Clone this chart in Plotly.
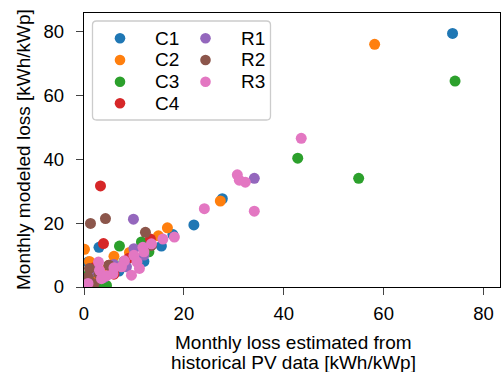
import plotly.graph_objects as go

series_names = ["C1", "C2", "C3", "C4", "R1", "R2", "R3"]
colors = ["#1f77b4", "#ff7f0e", "#2ca02c", "#d62728", "#9467bd", "#8c564b", "#e377c2"]

c1_x = [73.8, 27.7, 22.0, 17.8, 15.5, 9.7, 3.0, 0.8, 2.0, 1.0, 7.0, 12.0]
c1_y = [79.3, 27.6, 19.4, 16.4, 12.8, 9.9, 12.4, 7.8, 3.0, 1.5, 5.0, 8.0]
c2_x = [58.2, 27.3, 16.7, 14.9, 9.1, 6.0, 0.1, 1.1, 4.0, 2.0, 12.0, 0.5]
c2_y = [75.9, 26.9, 18.5, 16.0, 10.8, 9.6, 11.8, 8.0, 5.0, 2.0, 13.0, 3.0]
c3_x = [74.3, 42.8, 55.0, 7.1, 11.5, 12.9, 2.5, 4.5, 13.0, 3.0, 1.0, 8.0]
c3_y = [64.4, 40.3, 34.0, 12.8, 14.1, 11.2, 0.3, 0.5, 11.0, 1.0, 4.0, 8.0]
c4_x = [3.3, 3.9, 13.3, 5.0, 2.0, 1.0, 9.0, 6.0]
c4_y = [31.6, 13.6, 15.0, 6.8, 6.0, 2.0, 9.0, 4.0]
r1_x = [34.1, 9.9, 8.5, 12.0, 4.0, 1.0, 10.0, 6.0, 2.0]
r1_y = [34.0, 21.2, 6.3, 10.0, 3.0, 1.0, 12.0, 7.0, 5.0]
r2_x = [1.3, 4.3, 12.3, 1.1, 0.8, 5.0, 13.5, 2.0, 0.5, 3.0]
r2_y = [19.9, 21.4, 17.1, 5.8, 3.1, 6.8, 13.0, 1.0, 0.5, 4.0]
r3_x = [43.5, 30.7, 31.1, 32.3, 34.1, 24.1, 18.1, 15.8, 11.8, 10.0, 8.1, 10.6,
        11.1, 9.5, 7.5, 5.8, 3.5, 2.9, 3.1, 0.8, 13.5, 12.0, 6.0, 4.5]
r3_y = [46.5, 35.1, 33.4, 32.8, 23.7, 24.5, 15.6, 15.0, 12.4, 9.9, 8.2, 7.8,
        5.8, 3.7, 6.3, 4.2, 2.6, 7.8, 5.2, 1.1, 13.5, 11.0, 6.0, 3.5]

xs = [c1_x, c2_x, c3_x, c4_x, r1_x, r2_x, r3_x]
ys = [c1_y, c2_y, c3_y, c4_y, r1_y, r2_y, r3_y]

x_ticks = [0, 20, 40, 60, 80]
y_ticks = [0, 20, 40, 60, 80]

x_title_lines = ["Monthly loss estimated from", "historical PV data [kWh/kWp]"]
y_title = "Monthly modeled loss [kWh/kWp]"

FONT = "Liberation Sans, Arial, sans-serif"
W, H = 501, 372
ML, MR, MT, MB = 84, 1, 13, 85
PW, PH = W - ML - MR, H - MT - MB


def px2paper_x(px):
    return (px - ML) / PW


def px2paper_y(py):
    return (H - MB - py) / PH


fig = go.Figure()
for i, name in enumerate(series_names):
    fig.add_trace(go.Scatter(
        x=xs[i], y=ys[i], mode="markers", name=name,
        marker=dict(color=colors[i], size=11, line=dict(width=0)),
        showlegend=False, cliponaxis=True,
    ))

# legend (two columns, column-major like the reference)
shapes = []
annotations = []
bx0, bx1 = px2paper_x(92.5), px2paper_x(270.5)
by0, by1 = px2paper_y(120), px2paper_y(21)
rx, ry = 4 / PW, 4 / PH
path = (f"M {bx0+rx},{by1} L {bx1-rx},{by1} Q {bx1},{by1} {bx1},{by1-ry} "
        f"L {bx1},{by0+ry} Q {bx1},{by0} {bx1-rx},{by0} "
        f"L {bx0+rx},{by0} Q {bx0},{by0} {bx0},{by0+ry} "
        f"L {bx0},{by1-ry} Q {bx0},{by1} {bx0+rx},{by1} Z")
shapes.append(dict(type="path", path=path, xref="paper", yref="paper",
                   line=dict(color="#cccccc", width=1.3),
                   fillcolor="rgba(255,255,255,0.8)", layer="above"))

col_marker_px = [120, 205.5]
col_text_px = [153, 239]
row_px = [38.3, 60.0, 81.7, 103.3]
for i, name in enumerate(series_names):
    col = 0 if i < 4 else 1
    row = i if i < 4 else i - 4
    cx = px2paper_x(col_marker_px[col])
    cy = px2paper_y(row_px[row])
    shapes.append(dict(type="circle", xref="paper", yref="paper",
                       xsizemode="pixel", ysizemode="pixel",
                       xanchor=cx, yanchor=cy, x0=-5.3, x1=5.3, y0=-5.3, y1=5.3,
                       fillcolor=colors[i], line=dict(width=0), layer="above"))
    annotations.append(dict(text=name, xref="paper", yref="paper",
                            x=px2paper_x(col_text_px[col]), y=cy,
                            xanchor="left", yanchor="middle", showarrow=False,
                            font=dict(size=19, family=FONT, color="black")))

# axis titles
annotations.append(dict(text=x_title_lines[0], xref="paper", yref="paper",
                        x=px2paper_x(293), y=px2paper_y(342), xanchor="center",
                        yanchor="middle", showarrow=False,
                        font=dict(size=19, family=FONT, color="black")))
annotations.append(dict(text=x_title_lines[1], xref="paper", yref="paper",
                        x=px2paper_x(293), y=px2paper_y(362.5), xanchor="center",
                        yanchor="middle", showarrow=False,
                        font=dict(size=19, family=FONT, color="black")))
annotations.append(dict(text=y_title, xref="paper", yref="paper",
                        x=px2paper_x(23), y=px2paper_y(150), xanchor="center",
                        yanchor="middle", textangle=-90, showarrow=False,
                        font=dict(size=19, family=FONT, color="black")))

fig.update_layout(
    width=W, height=H,
    margin=dict(l=ML, r=MR, t=MT, b=MB),
    paper_bgcolor="white", plot_bgcolor="white",
    font=dict(family=FONT, size=18.5, color="black"),
    showlegend=False,
    shapes=shapes,
    annotations=annotations,
)

fig.update_xaxes(
    range=[0, 83.3], tickvals=x_ticks, ticks="outside", ticklen=7, tickwidth=1.3,
    showline=True, linecolor="black", linewidth=1.3, mirror=True,
    showgrid=False, zeroline=False, tickfont=dict(size=18.5),
    ticklabelstandoff=3,
)
fig.update_yaxes(
    range=[0, 85.7], tickvals=y_ticks, ticks="outside", ticklen=7, tickwidth=1.3,
    showline=True, linecolor="black", linewidth=1.3, mirror=True,
    showgrid=False, zeroline=False, tickfont=dict(size=18.5),
    ticklabelstandoff=8,
)

fig.write_html("out.html")
